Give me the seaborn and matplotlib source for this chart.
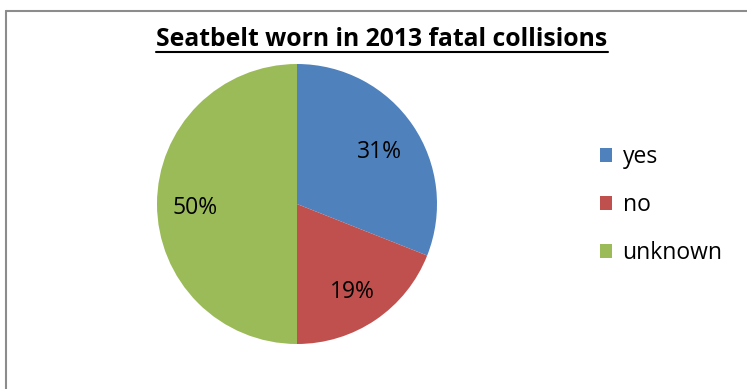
import matplotlib
matplotlib.use("Agg")
import matplotlib.pyplot as plt
import seaborn as sns
from matplotlib.lines import Line2D
from matplotlib.patches import Patch

categories = ["yes", "no", "unknown"]
values = [31, 19, 50]
colors = ["#4F81BD", "#C0504D", "#9BBB59"]
title = "Seatbelt worn in 2013 fatal collisions"

sns.set_theme(style="white")
plt.rcParams['font.family'] = ['Open Sans', 'DejaVu Sans']

W, H = 747, 389
fig = plt.figure(figsize=(W / 100, H / 100), dpi=100)
fig.patch.set_facecolor("white")

cx, cy, r = 297, 204, 140
ax = fig.add_axes([(cx - r) / W, (H - cy - r) / H, 2 * r / W, 2 * r / H])
pal = sns.color_palette(colors)
wedges, texts, autotexts = ax.pie(
    values, colors=pal, startangle=90, counterclock=False,
    autopct=lambda p: f"{p:.0f}%", pctdistance=0.72,
    wedgeprops=dict(linewidth=0), textprops=dict(fontsize=16.5, color="black"))
for at in autotexts:
    x, y = at.get_position()
    at.set_position((x - 0.01, y - 0.03))
ax.set_aspect("equal")
ax.set_xlim(-1, 1)
ax.set_ylim(-1, 1)

# chart border (top and left visible)
fig.add_artist(Line2D([6 / W, 6 / W], [0, 1 - 11 / H], transform=fig.transFigure,
                      color="#8c8c8c", linewidth=1.5))
fig.add_artist(Line2D([6 / W, 1], [1 - 11 / H, 1 - 11 / H], transform=fig.transFigure,
                      color="#8c8c8c", linewidth=1.5))

t = fig.text(382 / W, 1 - 39 / H, title, ha="center", va="center",
             fontsize=17.8, fontweight="bold", color="black")
fig.canvas.draw()
bb = t.get_window_extent(fig.canvas.get_renderer())
uy = bb.y0 - 0.5
fig.add_artist(Line2D([bb.x0 / W, bb.x1 / W], [uy / H, uy / H], transform=fig.transFigure,
                      color="black", linewidth=1.5))

handles = [Patch(facecolor=c, edgecolor="none") for c in pal]
leg = fig.legend(handles, categories, loc="center left",
                 bbox_to_anchor=(579 / W, 1 - 205 / H), frameon=False,
                 fontsize=16.5, handlelength=0.55, handleheight=0.55, handletextpad=0.45,
                 labelspacing=1.05)
for txt in leg.get_texts():
    txt.set_color("black")

fig.savefig("out.png", dpi=100)
